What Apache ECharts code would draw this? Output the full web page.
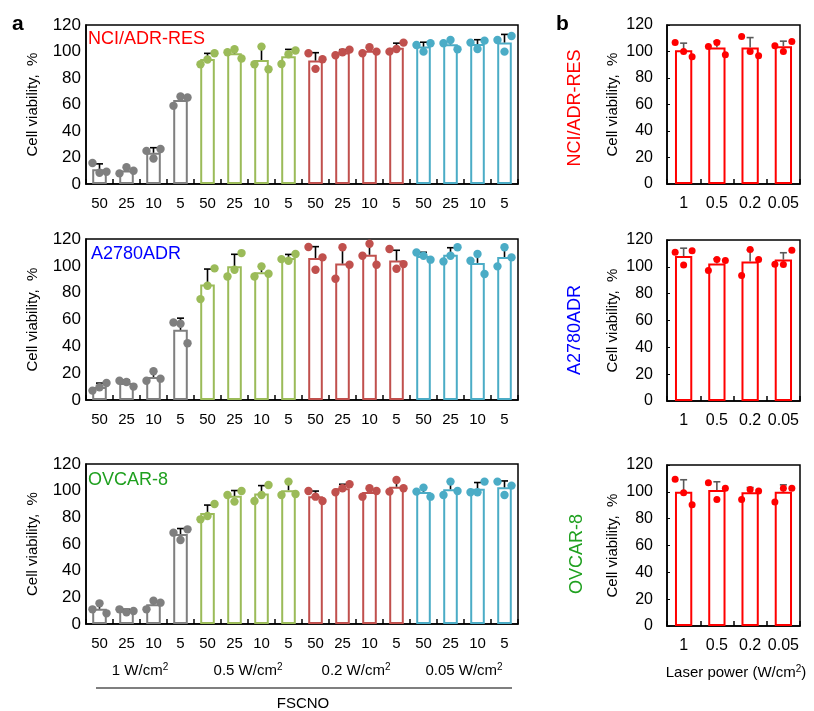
<!DOCTYPE html>
<html><head><meta charset="utf-8">
<script src="https://cdn.jsdelivr.net/npm/echarts/dist/echarts.min.js"></script>
<style>html,body{margin:0;padding:0;background:#fff}#c{width:814px;height:711px}</style>
</head><body><div id="c"></div>
<script>
// ---------- data ----------
const concLabels = ['50','25','10','5','50','25','10','5','50','25','10','5','50','25','10','5'];
const groupLabels = ['1','0.5','0.2','0.05'];
const powerLabels = ['1','0.5','0.2','0.05'];
const cellLines = ['NCI/ADR-RES','A2780ADR','OVCAR-8'];

// panel a, NCI/ADR-RES
const a1Mean = [11.2,10.2,23.6,63.4,94.4,98.6,93.6,96.4,93.2,99.3,100.6,102.8,103.7,105.5,105.6,106.8];
const a1Sd   = [4.0,2.3,3.8,3.9,4.2,3.6,9.0,5.2,5.9,2.1,2.3,3.5,3.3,3.5,3.3,6.1];
const a1Rep1 = [15.8,8,25,59,90.4,99.4,90.4,90.6,98.7,97.2,98.7,99.9,104.9,106.2,106.7,108.7];
const a1Rep2 = [8.5,12.6,19.3,66,94,101.7,103.7,97.9,86.9,99.4,103.2,101.9,99.9,108.7,101.9,99.9];
const a1Rep3 = [9.3,10,26.4,65.3,98.7,94.7,86.6,100.7,94.1,101.4,99.9,106.7,106.2,101.7,108.2,111.7];
// panel a, A2780ADR
const a2Mean = [9.7,12.6,17.2,52.3,86.1,99.6,95.3,105.9,105.8,101.7,108.3,103.9,107.4,108.2,102.2,106.6];
const a2Sd   = [2.9,2.3,3.7,8.7,11.5,9.0,3.9,2.6,8.5,11.7,7.9,7.7,2.7,5.3,7.6,7.1];
const a2Rep1 = [7,14.4,14.4,57.8,75.2,92.1,92.1,105,114,90.4,107.5,112.5,110,103.3,103.8,99.6];
const a2Rep2 = [9.5,13.4,21.4,56.8,85.1,97.1,99.6,103.8,97.1,113.8,116.5,97.8,107.5,107.5,108.8,113.8];
const a2Rep3 = [12.7,10,15.9,42.3,98.1,109.5,94.1,108.8,106.3,100.8,100.8,101.3,104.6,113.8,93.9,106.3];
// panel a, OVCAR-8
const a3Mean = [11.5,9.9,14.8,67.5,83.2,96.1,97.8,100.4,95.9,101.8,99.0,103.0,99.0,101.1,101.5,102.5];
const a3Sd   = [3.8,1.1,3.4,4.1,6.0,4.0,6.0,5.6,3.8,3.0,3.2,4.5,3.4,5.1,4.6,4.8];
const a3Rep1 = [11,11,11,68.5,78.5,96.8,92.3,96.8,99.8,98.8,95.5,99.3,99.3,96.8,98.8,106.8];
const a3Rep2 = [15.5,8.8,17.5,63,81,91.8,96.8,106.8,95.5,101.8,101.8,108,102.3,106.8,98.8,96.8];
const a3Rep3 = [8,9.8,16,71,90,99.8,104.3,97.5,92.3,104.8,99.8,101.8,95.5,99.8,106.8,103.8];

// panel b
const b1Mean = [101,103,103,104];
const b1Sd   = [5.3,4.7,7.5,3.8];
const b1Rep1 = [106.8,103.8,111.3,104.3];
const b1Rep2 = [100,106.8,100,100];
const b1Rep3 = [96,97.5,96.8,107.5];
const b2Mean = [108,102.5,104,105.4];
const b2Sd   = [5.9,3.5,8.5,5.1];
const b2Rep1 = [110.8,97.3,93.6,102];
const b2Rep2 = [101.3,105.5,113,101.8];
const b2Rep3 = [112,104.8,105.5,112.3];
const b3Mean = [100,101.3,99.6,100];
const b3Sd   = [9,6.2,3.6,5.2];
const b3Rep1 = [109.3,106.8,94.3,92.4];
const b3Rep2 = [99.3,94.3,101.8,102.6];
const b3Rep3 = [90.4,102.6,100.6,102.6];

// ---------- styling ----------
const FONT = '"Liberation Sans", Arial, sans-serif';
const groupColors = ['#7f7f7f','#9bbb59','#c0504d','#4bacc6'];
const lineColors = ['#ff0000','#0000ff','#1fa01f'];

const gridsA = [
  {left:86, top:25, width:432, height:159},
  {left:86, top:239, width:432, height:161},
  {left:86, top:464, width:432, height:160}
];
const gridsB = [
  {left:667, top:25, width:133, height:159},
  {left:667, top:240, width:133, height:161},
  {left:667, top:465, width:133, height:161}
];

const panelsA = [
  {mean:a1Mean, sd:a1Sd, reps:[a1Rep1,a1Rep2,a1Rep3]},
  {mean:a2Mean, sd:a2Sd, reps:[a2Rep1,a2Rep2,a2Rep3]},
  {mean:a3Mean, sd:a3Sd, reps:[a3Rep1,a3Rep2,a3Rep3]}
];
const panelsB = [
  {mean:b1Mean, sd:b1Sd, reps:[b1Rep1,b1Rep2,b1Rep3]},
  {mean:b2Mean, sd:b2Sd, reps:[b2Rep1,b2Rep2,b2Rep3]},
  {mean:b3Mean, sd:b3Sd, reps:[b3Rep1,b3Rep2,b3Rep3]}
];

const grid = [], xAxis = [], yAxis = [], series = [];

function errRender(color, capHalf){
  return function(params, api){
    const i = api.value(0), m = api.value(1), s = api.value(2);
    const p0 = api.coord([i, m]);
    const p1 = api.coord([i, m + s]);
    return {type:'group', children:[
      {type:'line', shape:{x1:p0[0], y1:p0[1], x2:p1[0], y2:p1[1]}, style:{stroke:color, lineWidth:1.6}},
      {type:'line', shape:{x1:p1[0]-capHalf, y1:p1[1], x2:p1[0]+capHalf, y2:p1[1]}, style:{stroke:color, lineWidth:1.6}}
    ]};
  };
}
function dotRender(colorFn, r, frac){
  return function(params, api){
    const i = api.value(0), v = api.value(1), k = api.value(2);
    const p = api.coord([i, v]);
    const band = api.size([1, 0])[0];
    return {type:'circle', shape:{cx:p[0] + k*frac*band, cy:p[1], r:r}, style:{fill:colorFn(i)}};
  };
}

function addPanel(idx, g, cats, p, colorFn, opts){
  grid.push(Object.assign({show:true, borderColor:'#000', borderWidth:1.5, backgroundColor:'transparent', containLabel:false}, g));
  xAxis.push({
    type:'category', gridIndex:idx, data:cats,
    axisLine:{show:true, lineStyle:{color:'#000', width:1.5}},
    axisTick:{show:true, inside:true, length:5, alignWithLabel:false, interval:0, lineStyle:{color:'#000', width:1.5}},
    axisLabel:{show:true, interval:0, color:'#000', fontSize:opts.xFont, fontFamily:FONT, margin:opts.xMargin},
    splitLine:{show:false}
  });
  yAxis.push({
    type:'value', gridIndex:idx, min:0, max:120, interval:20,
    name:'Cell viability,  %', nameLocation:'middle', nameGap:opts.nameGap,
    nameTextStyle:{color:'#000', fontSize:15, fontFamily:FONT},
    axisLine:{show:true, lineStyle:{color:'#000', width:1.5}},
    axisTick:{show:opts.yTick, inside:true, length:3, lineStyle:{color:'#000'}},
    axisLabel:{color:'#000', fontSize:opts.yFont, fontFamily:FONT, margin:opts.yMargin},
    splitLine:{show:false}
  });
  series.push({
    type:'bar', xAxisIndex:idx, yAxisIndex:idx, barWidth:opts.barWidth, z:2,
    data:p.mean.map((v,i)=>({value:v, itemStyle:{color:'#fff', borderColor:colorFn(i), borderWidth:2}})),
    silent:true, animation:false
  });
  series.push({
    type:'custom', xAxisIndex:idx, yAxisIndex:idx, z:3, animation:false,
    renderItem:errRender(opts.errColor, opts.cap),
    data:p.mean.map((v,i)=>[i, v, p.sd[i]])
  });
  const dots = [];
  p.reps.forEach((rep, k)=>rep.forEach((v,i)=>dots.push([i, v, k-1])));
  series.push({
    type:'custom', xAxisIndex:idx, yAxisIndex:idx, z:4, animation:false,
    renderItem:dotRender(colorFn, opts.r, opts.frac),
    data:dots
  });
}

panelsA.forEach((p, j)=>addPanel(j, gridsA[j], concLabels, p, i=>groupColors[Math.floor(i/4)],
  {xFont:15, xMargin:12, yFont:17, yMargin:5, nameGap:46, yTick:false, barWidth:'54%', errColor:'#000', cap:3.5, r:4.2, frac:0.26}));
panelsB.forEach((p, j)=>addPanel(3+j, gridsB[j], powerLabels, p, i=>'#ff0000',
  {xFont:16, xMargin:12, yFont:16, yMargin:14, nameGap:47, yTick:true, barWidth:'52%', errColor:'#595959', cap:3.5, r:3.5, frac:0.255}));

// ---------- graphic text ----------
const graphic = [
  {type:'text', left:12, top:14, style:{text:'a', font:'bold 21px '+FONT, fill:'#000'}},
  {type:'text', left:556, top:14, style:{text:'b', font:'bold 21px '+FONT, fill:'#000'}},
  {type:'text', x:88, y:39, style:{text:cellLines[0], font:'18px '+FONT, fill:lineColors[0], textVerticalAlign:'middle'}},
  {type:'text', x:91, y:254, style:{text:cellLines[1], font:'18px '+FONT, fill:lineColors[1], textVerticalAlign:'middle'}},
  {type:'text', x:88, y:480, style:{text:cellLines[2], font:'18px '+FONT, fill:lineColors[2], textVerticalAlign:'middle'}},
  {type:'text', x:575, y:108, rotation:Math.PI/2, style:{text:cellLines[0], font:'18px '+FONT, fill:lineColors[0], textAlign:'center', textVerticalAlign:'middle'}},
  {type:'text', x:575, y:330, rotation:Math.PI/2, style:{text:cellLines[1], font:'18px '+FONT, fill:lineColors[1], textAlign:'center', textVerticalAlign:'middle'}},
  {type:'text', x:577, y:554, rotation:Math.PI/2, style:{text:cellLines[2], font:'18px '+FONT, fill:lineColors[2], textAlign:'center', textVerticalAlign:'middle'}},
  {type:'line', shape:{x1:96, y1:688, x2:512, y2:688}, style:{stroke:'#000', lineWidth:1.2}},
  {type:'text', x:303, y:704, style:{text:'FSCNO', font:'15px '+FONT, fill:'#000', textAlign:'center', textVerticalAlign:'middle'}},
  {type:'text', x:736, y:673, style:{
    text:'{t|Laser power (W/cm}{s|2}{t|)}', textAlign:'center', textVerticalAlign:'middle',
    rich:{t:{font:'15px '+FONT, fill:'#000'}, s:{font:'10px '+FONT, fill:'#000', verticalAlign:'top', padding:[0,0,8,0]}}
  }}
];
const gA = gridsA[2];
groupLabels.forEach((g, k)=>{
  const cx = gA.left + gA.width*(k*4+2)/16;
  graphic.push({type:'text', x:cx, y:671, style:{
    text:'{t|'+g+' W/cm}{s|2}', textAlign:'center', textVerticalAlign:'middle',
    rich:{t:{font:'15px '+FONT, fill:'#000'}, s:{font:'10px '+FONT, fill:'#000', padding:[0,0,8,0]}}
  }});
});

const chart = echarts.init(document.getElementById('c'), null, {renderer:'canvas'});
chart.setOption({animation:false, backgroundColor:'#fff', grid, xAxis, yAxis, series, graphic});
</script>
</body></html>
